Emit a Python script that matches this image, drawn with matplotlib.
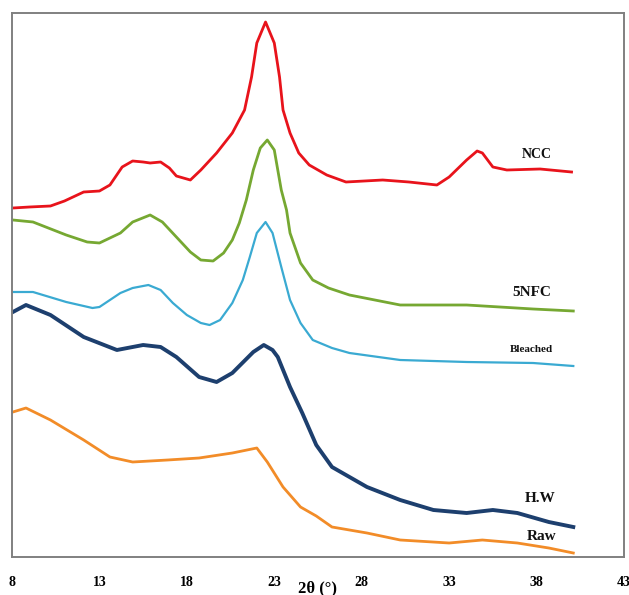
import matplotlib
matplotlib.use("Agg")
import matplotlib.pyplot as plt

# XRD patterns (2θ in degrees, intensity in arbitrary offset units)
ncc_x = [8.05, 9.0, 10.2, 11.0, 12.1, 13.0, 13.6, 14.3, 14.9, 15.5, 15.9, 16.5, 17.0, 17.4,
         18.2, 18.8, 19.7, 20.6, 21.3, 21.7, 22.0, 22.5, 23.0, 23.3, 23.5, 23.9, 24.4, 25.0,
         26.0, 27.1, 29.2, 30.7, 32.3, 33.0, 34.0, 34.6, 34.9, 35.5, 36.3, 38.2, 40.0]
ncc_y = [392, 393, 394, 399, 408, 409, 415, 433, 439, 438, 437, 438, 432, 424,
         420, 430, 447, 467, 490, 523, 557, 578, 557, 523, 490, 467, 447, 435,
         425, 418, 420, 418, 415, 423, 440, 449, 447, 433, 430, 431, 428]

nfc_x = [8.05, 9.2, 11.1, 12.3, 13.0, 14.2, 14.9, 15.9, 16.6, 17.4, 18.2, 18.8, 19.5, 20.1,
         20.6, 21.0, 21.4, 21.8, 22.2, 22.6, 23.0, 23.4, 23.7, 23.9, 24.5, 25.2, 26.1, 27.3,
         30.2, 34.0, 37.8, 40.1]
nfc_y = [380, 378, 365, 358, 357, 367, 378, 385, 378, 363, 348, 340, 339, 347,
         360, 377, 400, 430, 452, 460, 450, 410, 390, 367, 337, 320, 312, 305,
         295, 295, 291, 289]

bleached_x = [8.05, 9.2, 11.1, 12.6, 13.0, 14.2, 14.9, 15.8, 16.5, 17.2, 18.0, 18.8, 19.3,
              19.9, 20.6, 21.2, 21.6, 22.0, 22.5, 22.9, 23.4, 23.9, 24.5, 25.2, 26.3, 27.3,
              30.2, 34.0, 37.8, 40.1]
bleached_y = [308, 308, 298, 292, 293, 307, 312, 315, 310, 297, 285, 277, 275,
              280, 297, 320, 343, 367, 378, 367, 333, 300, 277, 260, 252, 247,
              240, 238, 237, 234]

hw_x = [8.05, 8.8, 10.2, 12.1, 14.0, 15.5, 16.5, 17.4, 18.7, 19.7, 20.6, 21.8, 22.4, 22.9,
        23.2, 23.9, 24.6, 25.4, 26.3, 28.3, 30.2, 32.1, 34.0, 35.5, 36.9, 38.7, 40.1]
hw_y = [288, 295, 285, 263, 250, 255, 253, 243, 223, 218, 227, 248, 255, 250,
        243, 213, 187, 155, 133, 113, 100, 90, 87, 90, 87, 78, 73]

raw_x = [8.05, 8.8, 10.2, 12.1, 13.6, 14.9, 16.9, 18.7, 20.6, 22.0, 22.6, 23.5, 24.5, 25.4,
         26.3, 28.3, 30.2, 33.0, 34.9, 36.9, 38.7, 40.1]
raw_y = [188, 192, 180, 160, 143, 138, 140, 142, 147, 152, 138, 113, 93, 84,
         73, 67, 60, 57, 60, 57, 52, 47]

series_names = ["NCC", "5NFC", "Bleached", "H.W", "Raw"]
x_ticks = [8, 13, 18, 23, 28, 33, 38, 43]

colors = ["#E8131B", "#76A832", "#3AAAD2", "#1D3F6E", "#F28C28"]
widths = [2.0, 2.0, 1.6, 2.8, 2.0]

serif = "Liberation Serif"

fig = plt.figure(figsize=(6.29, 5.95), dpi=100)
ax = fig.add_axes([12 / 629, 38 / 595, 612 / 629, 544 / 595])

all_x = [ncc_x, nfc_x, bleached_x, hw_x, raw_x]
all_y = [ncc_y, nfc_y, bleached_y, hw_y, raw_y]
for xs, ys, c, lw in zip(all_x, all_y, colors, widths):
    ax.plot(xs, ys, color=c, lw=lw, solid_joinstyle="round")

ax.set_xlim(8, 43)
ax.set_ylim(43, 587)
ax.set_xticks(x_ticks)
ax.set_xticklabels([str(t) for t in x_ticks], fontfamily=serif, fontweight="bold", fontsize=10)
ax.tick_params(axis="x", length=0, pad=14)
ax.set_yticks([])
for s in ax.spines.values():
    s.set_color("#808080")
    s.set_linewidth(1.4)

# curve labels
label_pos = [(38.0, 445, 10), (37.7, 308, 11), (37.7, 250, 8), (38.2, 101, 11), (38.3, 64, 11)]
for name, (lx, ly, fs) in zip(series_names, label_pos):
    ax.text(lx, ly, name, ha="center", va="center", fontfamily=serif,
            fontweight="bold", fontsize=fs, color="#111111")

fig.text(318 / 629, 1 - 588 / 595, "2θ (°)", ha="center", va="center",
         fontfamily=serif, fontweight="bold", fontsize=12)

fig.savefig("out.png", dpi=100)
